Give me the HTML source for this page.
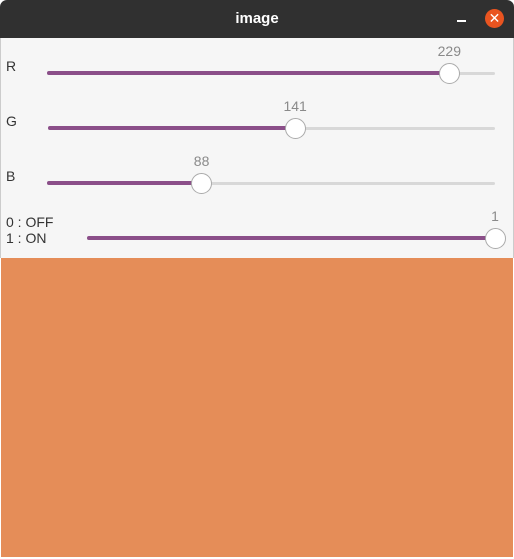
<!DOCTYPE html>
<html><head><meta charset="utf-8"><style>
body{margin:0;width:514px;height:559px;background:#fff;font-family:"Liberation Sans",sans-serif;overflow:hidden;position:relative}
#title{position:absolute;left:0;top:0;width:514px;height:38px;background:#303030;border-radius:7px 7px 0 0}
#title span{position:absolute;left:0;width:514px;top:10px;text-align:center;color:#fff;font-weight:bold;font-size:15px}
#panel{position:absolute;left:0;top:38px;width:512px;height:220px;background:#f6f6f6;border-left:1px solid #ccc;border-right:1px solid #ccc}
#img{position:absolute;left:1px;top:258px;width:512px;height:299px;background:#e58d58}
.lbl{position:absolute;color:#333;font-size:14px}
.val{position:absolute;color:#8a8a8a;font-size:14px;transform:translateX(-50%)}
.trk{position:absolute;height:3px;background:#d8d8d8;border-radius:2px}
.fill{position:absolute;height:4px;background:#8b4f89;border-radius:2px}
.thumb{position:absolute;width:21px;height:21px;border-radius:50%;background:#fff;border:1px solid #aaa;box-sizing:border-box}
</style></head><body>
<div id="title"><span>image</span>
<div style="position:absolute;left:457px;top:20px;width:9px;height:2px;background:#fff"></div>
<div style="position:absolute;left:485px;top:9px;width:19px;height:19px;border-radius:50%;background:#e95420;color:#fff;font-size:14px;text-align:center;line-height:19px">✕</div>
</div>
<div id="panel"></div>
<div id="img"></div>
<script>
const names=["R","G","B","0 : OFF\n1 : ON"];
const values=[229,141,88,1];
const maxes=[255,255,255,1];
const geo=[[47,495,73,6,66],[48,495,128,6,121],[47,495,183,6,176],[87,495,238,6,214]];
const body=document.body;
names.forEach((n,i)=>{
  const [x0,x1,y,lx,ly]=geo[i];
  const tx=x0+(x1-x0)*values[i]/maxes[i];
  const l=document.createElement('div');l.className='lbl';
  
  
  l.style.left=lx+'px';l.style.top=ly-(i==3?0:8)+'px';l.style.lineHeight='16px';
  l.innerHTML=n.replace('\n','<br>');body.appendChild(l);
  const t=document.createElement('div');t.className='trk';
  
  
  t.style.left=x0+'px';t.style.width=(x1-x0)+'px';t.style.top=(y-1)+'px';body.appendChild(t);
  const f=document.createElement('div');f.className='fill';
  
  
  f.style.left=x0+'px';f.style.width=(tx-x0)+'px';f.style.top=(y-2)+'px';body.appendChild(f);
  const h=document.createElement('div');h.className='thumb';
  
  
  h.style.left=(tx-10.5)+'px';h.style.top=(y-10.5)+'px';body.appendChild(h);
  const v=document.createElement('div');v.className='val';
  
  
  v.style.left=tx+'px';v.style.top=(y-30)+'px';v.textContent=values[i];body.appendChild(v);
});
</script>
</body></html>
